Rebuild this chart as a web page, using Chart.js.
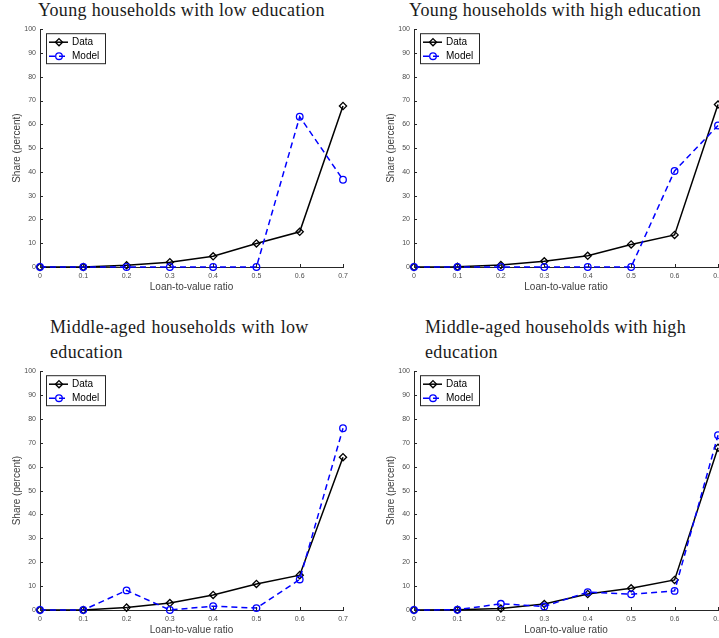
<!DOCTYPE html>
<html>
<head>
<meta charset="utf-8">
<script src="https://cdn.jsdelivr.net/npm/chart.js@4.4.1/dist/chart.umd.min.js"></script>
<style>
  html, body { margin: 0; padding: 0; width: 719px; height: 638px; overflow: hidden; background: #fff; }
  canvas { position: absolute; }
  .ttl { position: absolute; font-family: "Liberation Serif", "DejaVu Serif", serif; font-size: 18px;
         letter-spacing: 0.33px; line-height: 18px; color: #1a1a1a; white-space: nowrap; }
</style>
</head>
<body>
<div class="ttl" id="t1" style="left:38px; top:1px;">Young households with low education</div>
<div class="ttl" id="t2" style="left:409px; top:1px;">Young households with high education</div>
<div class="ttl" id="t3" style="left:50px; top:318px; word-spacing:1px;">Middle-aged households with low</div>
<div class="ttl" id="t3b" style="left:50px; top:343px;">education</div>
<div class="ttl" id="t4" style="left:425px; top:318px;">Middle-aged households with high</div>
<div class="ttl" id="t4b" style="left:425px; top:343px;">education</div>

<canvas id="c1"></canvas>
<canvas id="c2"></canvas>
<canvas id="c3"></canvas>
<canvas id="c4"></canvas>

<script>
// Loan-to-value ratio categories (x axis tick labels)
const ltvLabels = ['0', '0.1', '0.2', '0.3', '0.4', '0.5', '0.6', '0.7'];

// Share of households (percent) by loan-to-value ratio
const youngLowData   = [0, 0, 0.7, 2.0, 4.5, 9.9, 14.8, 67.7];
const youngLowModel  = [0, 0, 0, 0, 0, 0, 63.2, 36.7];
const youngHighData  = [0, 0.1, 0.8, 2.4, 4.7, 9.5, 13.5, 68.3];
const youngHighModel = [0, 0, 0, 0, 0, 0, 40.4, 59.5];
const midLowData     = [0, 0, 1.0, 2.9, 6.3, 10.9, 14.6, 64.0];
const midLowModel    = [0, 0, 8.2, 0, 1.6, 0.8, 12.8, 76.1];
const midHighData    = [0, 0.1, 0.6, 2.5, 6.7, 9.1, 12.6, 67.9];
const midHighModel   = [0, 0.1, 2.6, 1.5, 7.5, 6.6, 8.0, 73.2];

// Legend labels
const seriesNames = ['Data', 'Model'];

const AXIS_COLOR = '#262626';
const TICK_TEXT = '#4d4d4d';
const SANS = '"Liberation Sans", Arial, Helvetica, sans-serif';

// Plot-area rectangles on the page: left, right, top, bottom
const panels = [
  { id: 'c1', area: [40, 343, 29, 267],  data: youngLowData,  model: youngLowModel },
  { id: 'c2', area: [414, 718, 29, 267], data: youngHighData, model: youngHighModel },
  { id: 'c3', area: [40, 343, 371, 610], data: midLowData,    model: midLowModel },
  { id: 'c4', area: [414, 718, 371, 610], data: midHighData,  model: midHighModel }
];

const Y_AXIS_W = 40, X_AXIS_H = 32, PAD_TOP = 8, PAD_RIGHT = 24;

// Inward tick marks along the left and bottom axes
const innerTicks = {
  id: 'innerTicks',
  afterDatasetsDraw(chart) {
    const { ctx, chartArea: a, scales: { x, y } } = chart;
    ctx.save();
    ctx.strokeStyle = AXIS_COLOR;
    ctx.lineWidth = 1;
    ctx.beginPath();
    x.ticks.forEach((t, i) => {
      const px = Math.round(x.getPixelForTick(i)) + 0.5;
      ctx.moveTo(px, a.bottom);
      ctx.lineTo(px, a.bottom - 3);
    });
    y.ticks.forEach(t => {
      const py = Math.round(y.getPixelForValue(t.value)) + 0.5;
      ctx.moveTo(a.left, py);
      ctx.lineTo(a.left + 3, py);
    });
    ctx.stroke();
    ctx.restore();
  }
};

function drawMarker(ctx, style, x, y, r) {
  ctx.beginPath();
  if (style === 'rectRot') {
    ctx.moveTo(x, y - r);
    ctx.lineTo(x + r, y);
    ctx.lineTo(x, y + r);
    ctx.lineTo(x - r, y);
    ctx.closePath();
  } else {
    ctx.arc(x, y, r, 0, Math.PI * 2);
  }
  ctx.stroke();
}

// Boxed legend in the upper-left corner of the plot area
const boxedLegend = {
  id: 'boxedLegend',
  afterDraw(chart) {
    const { ctx, chartArea: a } = chart;
    const bx = a.left + 6, by = a.top + 4, bw = 59, bh = 30;
    ctx.save();
    ctx.fillStyle = '#fff';
    ctx.fillRect(bx, by, bw, bh);
    ctx.strokeStyle = AXIS_COLOR;
    ctx.lineWidth = 1;
    ctx.strokeRect(bx + 0.5, by + 0.5, bw, bh);
    chart.data.datasets.forEach((ds, i) => {
      const ly = by + 9 + i * 14;
      ctx.strokeStyle = ds.borderColor;
      ctx.lineWidth = ds.borderWidth;
      ctx.setLineDash(ds.borderDash || []);
      ctx.beginPath();
      ctx.moveTo(bx + 3, ly);
      ctx.lineTo(bx + 22, ly);
      ctx.stroke();
      ctx.setLineDash([]);
      ctx.lineWidth = ds.pointBorderWidth;
      drawMarker(ctx, ds.pointStyle, bx + 13, ly, ds.pointRadius);
      ctx.fillStyle = '#000';
      ctx.font = '10px ' + SANS;
      ctx.textBaseline = 'middle';
      ctx.fillText(ds.label, bx + 26, ly + 0.5);
    });
    ctx.restore();
  }
};

panels.forEach(p => {
  const [L, R, T, B] = p.area;
  const cv = document.getElementById(p.id);
  const w = (R - L) + Y_AXIS_W + PAD_RIGHT;
  const h = (B - T) + PAD_TOP + X_AXIS_H;
  cv.style.left = (L - Y_AXIS_W) + 'px';
  cv.style.top = (T - PAD_TOP) + 'px';
  cv.style.width = w + 'px';
  cv.style.height = h + 'px';
  cv.width = w;
  cv.height = h;

  new Chart(cv, {
    type: 'line',
    data: {
      labels: ltvLabels,
      datasets: [
        {
          label: seriesNames[0],
          data: p.data,
          borderColor: '#000',
          borderWidth: 1.5,
          pointStyle: 'rectRot',
          pointRadius: 3.6,
          pointBorderWidth: 1.3,
          pointBorderColor: '#000',
          pointBackgroundColor: 'rgba(0,0,0,0)',
          tension: 0,
          clip: false,
          order: 1
        },
        {
          label: seriesNames[1],
          data: p.model,
          borderColor: '#0000ff',
          borderWidth: 1.5,
          borderDash: [6, 4],
          pointStyle: 'circle',
          pointRadius: 3.3,
          pointBorderWidth: 1.3,
          pointBorderColor: '#0000ff',
          pointBackgroundColor: 'rgba(0,0,0,0)',
          tension: 0,
          clip: false,
          order: 0
        }
      ]
    },
    options: {
      responsive: false,
      animation: false,
      devicePixelRatio: 1,
      layout: { padding: { left: 0, top: PAD_TOP, right: PAD_RIGHT, bottom: 0 } },
      plugins: { legend: { display: false }, tooltip: { enabled: false }, title: { display: false } },
      scales: {
        x: {
          type: 'category',
          offset: false,
          grid: { display: false, drawTicks: false },
          border: { display: true, color: AXIS_COLOR, width: 1 },
          ticks: { color: TICK_TEXT, font: { family: SANS, size: 7 }, padding: 5, maxRotation: 0, autoSkip: false },
          title: { display: true, text: 'Loan-to-value ratio', color: '#404040',
                   font: { family: SANS, size: 10 }, padding: { top: 0, bottom: 6 } },
          afterFit(s) { s.height = X_AXIS_H; }
        },
        y: {
          min: 0, max: 100,
          grid: { display: false, drawTicks: false },
          border: { display: true, color: AXIS_COLOR, width: 1 },
          ticks: { stepSize: 10, color: TICK_TEXT, font: { family: SANS, size: 7 }, padding: 4 },
          title: { display: true, text: 'Share (percent)', color: '#404040',
                   font: { family: SANS, size: 10 }, padding: { top: 11, bottom: 0 } },
          afterFit(s) { s.width = Y_AXIS_W; }
        }
      }
    },
    plugins: [innerTicks, boxedLegend]
  });
});
</script>
</body>
</html>
